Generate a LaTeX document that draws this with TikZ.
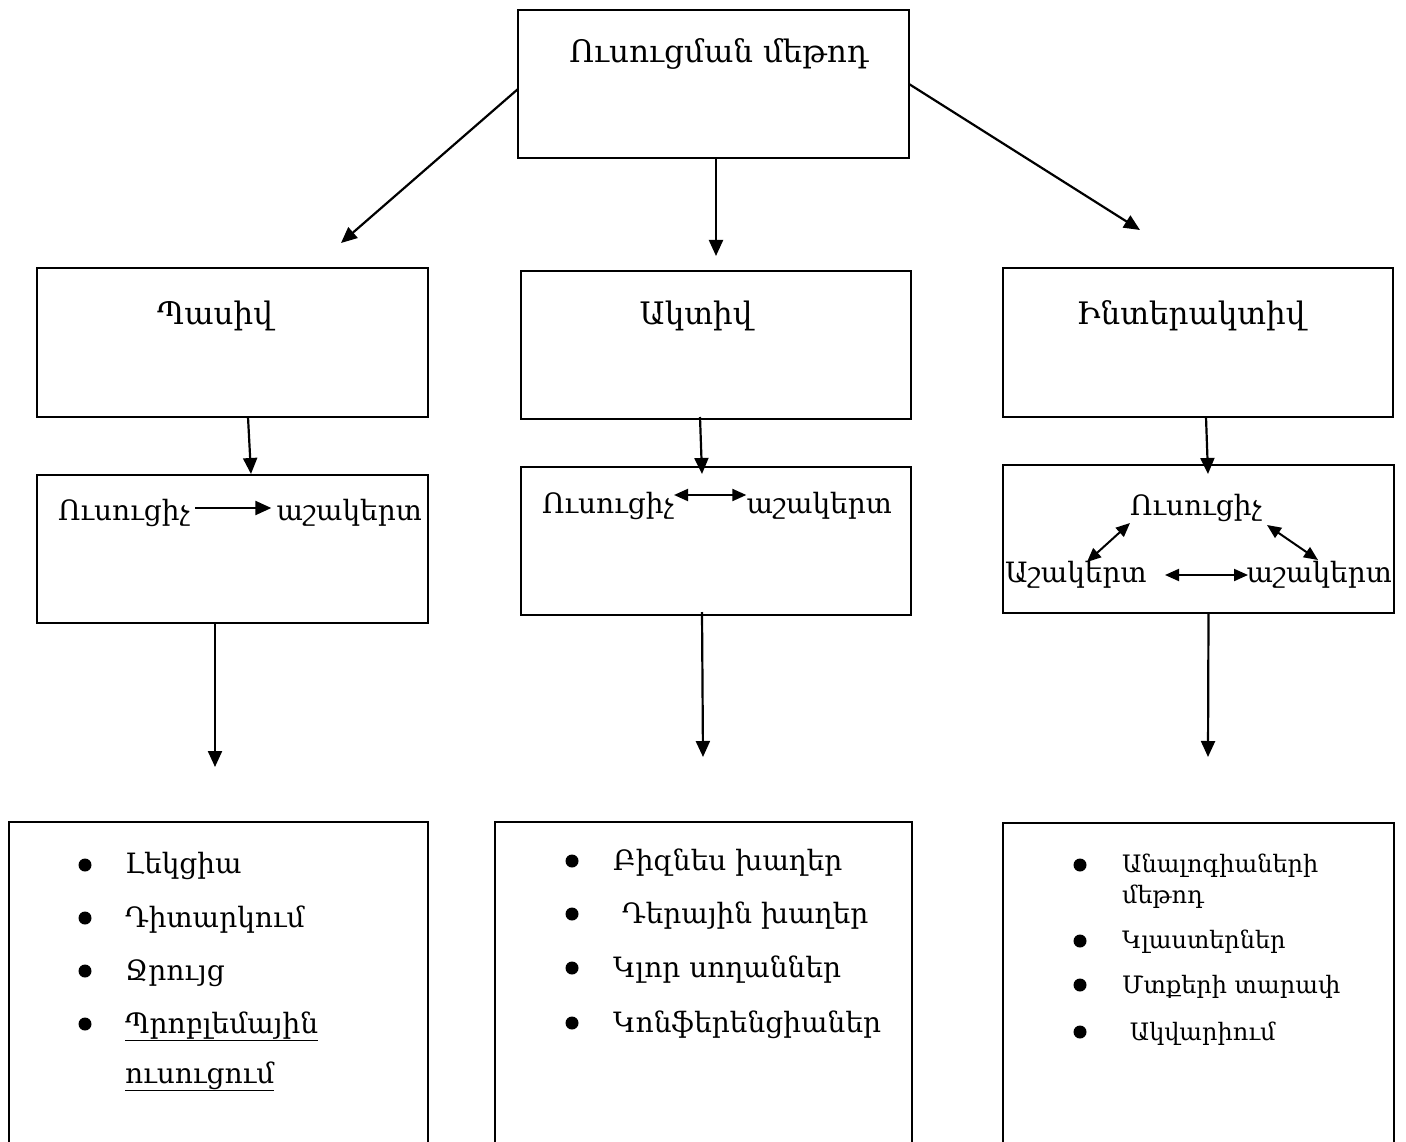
\documentclass[tikz,border=0pt]{standalone}
\usepackage{fontspec}
\setmainfont{DejaVu Serif}
\usetikzlibrary{arrows.meta}
\begin{document}
\begin{tikzpicture}[x=1pt,y=-1pt,
 box/.style={draw,line width=1.7pt,inner sep=0pt,outer sep=0pt,anchor=north west},
 arr/.style={line width=2.2pt,-{Triangle[length=16pt,width=14pt]}},
 darr/.style={line width=2pt,{Triangle[length=14pt,width=12pt]}-{Triangle[length=14pt,width=12pt]}},
 ttl/.style={inner sep=0pt,font=\fontsize{31}{35}\selectfont},
 lbl/.style={inner sep=0pt,font=\fontsize{28}{32}\selectfont},
 sml/.style={inner sep=0pt,font=\fontsize{24}{28}\selectfont},
 bul/.style={fill,circle,inner sep=0pt,minimum size=13pt},
]
\clip (0,0) rectangle (1406,1142);
% boxes
\node[box,minimum width=391pt,minimum height=148pt] (top) at (518,10) {};
\node[box,minimum width=391pt,minimum height=149pt] (pas) at (37,268) {};
\node[box,minimum width=390pt,minimum height=148pt] (akt) at (521,271) {};
\node[box,minimum width=390pt,minimum height=149pt] (int) at (1003,268) {};
\node[box,minimum width=391pt,minimum height=148pt] (r3l) at (37,475) {};
\node[box,minimum width=390pt,minimum height=148pt] (r3m) at (521,467) {};
\node[box,minimum width=391pt,minimum height=148pt] (r3r) at (1003,465) {};
\node[box,minimum width=419pt,minimum height=340pt] (r4l) at (9,822) {};
\node[box,minimum width=417pt,minimum height=340pt] (r4m) at (495,822) {};
\node[box,minimum width=391pt,minimum height=340pt] (r4r) at (1003,823) {};
% titles
\node[ttl,anchor=base] (ttop) at (719,63) {Ուսուցման մեթոդ};
\node[ttl,anchor=base] (tpas) at (215,324) {Պասիվ};
\node[ttl,anchor=base] (takt) at (696,324) {Ակտիվ};
\node[ttl,anchor=base] (tint) at (1191,324) {Ինտերակտիվ};
% arrows level 1
\coordinate (e1) at (341,243);
\coordinate (e2) at (716,256);
\coordinate (e3) at (1140,230);
\draw[arr] ([yshift=-5pt]top.west) -- (e1);
\draw[arr] ([xshift=2.5pt]top.south) -- (e2);
\draw[arr] (top.east) -- (e3);
% arrows level 2
\coordinate (f1) at (251,474);
\coordinate (f2) at (702,474);
\coordinate (f3) at (1208,474);
\draw[arr] ([xshift=15.5pt]pas.south) -- (f1);
\draw[arr] ([xshift=-16pt]akt.south |- 0,417) -- (f2);
\draw[arr] ([xshift=8pt]int.south) -- (f3);
% arrows level 3
\coordinate (g1) at (215,767);
\coordinate (g2) at (703,757);
\coordinate (g3) at (1208,757);
\draw[arr] ([xshift=-17.5pt]r3l.south) -- (g1);
\draw[arr] ([xshift=-14pt]r3m.south |- 0,612) -- (g2);
\draw[arr] ([xshift=10pt]r3r.south) -- (g3);
% row 3 left
\node[lbl,anchor=base west] (lu) at (58,520) {Ուսուցիչ};
\node[lbl,anchor=base east] (la) at (422,520) {աշակերտ};
\draw[arr] ([xshift=5pt,yshift=12pt]lu.base east) -- ([xshift=-5pt,yshift=12pt]la.base west);
% row 3 middle
\node[lbl,anchor=base west] (mu) at (542,513) {Ուսուցիչ};
\node[lbl,anchor=base east] (ma) at (892,513) {աշակերտ};
\draw[darr] ([yshift=18pt]mu.base east) -- ([yshift=18pt]ma.base west);
% row 3 right
\node[lbl,anchor=base] (ru) at (1196,515) {Ուսուցիչ};
\node[lbl,anchor=base west] (ra1) at (1005,582) {Աշակերտ};
\node[lbl,anchor=base east] (ra2) at (1392,582) {աշակերտ};
\coordinate (h1) at (1087,562);
\coordinate (h2) at (1130,523);
\coordinate (h3) at (1267,525);
\coordinate (h4) at (1318,560);
\coordinate (h5) at (1165,575);
\coordinate (h6) at (1248,575);
\draw[darr] (h1) -- (h2);
\draw[darr] (h3) -- (h4);
\draw[darr] (h5) -- (h6);
% row 4 left
\node[bul] (bl1) at (85,865) {};
\node[bul] (bl2) at (85,918) {};
\node[bul] (bl3) at (85,971) {};
\node[bul] (bl4) at (85,1024) {};
\node[lbl,anchor=base west] at (125,873) {Լեկցիա};
\node[lbl,anchor=base west] at (125,927) {Դիտարկում};
\node[lbl,anchor=base west] at (125,980) {Ջրույց};
\node[lbl,anchor=base west] at (125,1033) {\underline{Պրոբլեմային}};
\node[lbl,anchor=base west] at (125,1083) {\underline{ուսուցում}};
% row 4 middle
\node[bul] (bm1) at (572,861) {};
\node[bul] (bm2) at (572,914) {};
\node[bul] (bm3) at (572,968) {};
\node[bul] (bm4) at (572,1023) {};
\node[lbl,anchor=base west] at (613,870) {Բիզնես խաղեր};
\node[lbl,anchor=base west] at (613,923) {\ Դերային խաղեր};
\node[lbl,anchor=base west] at (613,977) {Կլոր սողաններ};
\node[lbl,anchor=base west] at (613,1032) {Կոնֆերենցիաներ};
% row 4 right
\node[bul] (br1) at (1080,865) {};
\node[bul] (br2) at (1080,941) {};
\node[bul] (br3) at (1080,985) {};
\node[bul] (br4) at (1080,1032) {};
\node[sml,anchor=base west] at (1122,872) {Անալոգիաների};
\node[sml,anchor=base west] at (1122,903) {մեթոդ};
\node[sml,anchor=base west] at (1122,948) {Կլաստերներ};
\node[sml,anchor=base west] at (1122,993) {Մտքերի տարափ};
\node[sml,anchor=base west] at (1122,1040) {\ Ակվարիում};
\end{tikzpicture}
\end{document}
